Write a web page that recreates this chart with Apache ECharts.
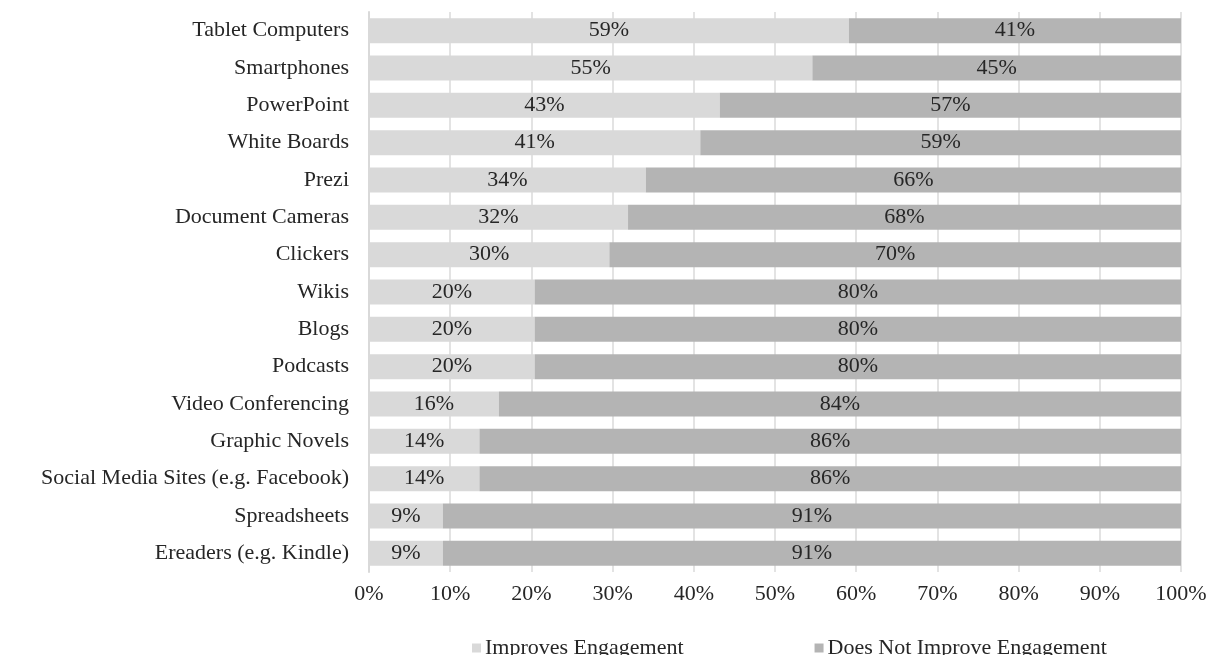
<!DOCTYPE html>
<html>
<head>
<meta charset="utf-8">
<script src="https://cdn.jsdelivr.net/npm/echarts@6/dist/echarts.min.js"></script>
<style>
html,body{margin:0;padding:0;background:#fff;}
#chart{width:1210px;height:655px;}
</style>
</head>
<body>
<div id="chart"></div>
<script>
var categories = ["Tablet Computers","Smartphones","PowerPoint","White Boards","Prezi","Document Cameras","Clickers","Wikis","Blogs","Podcasts","Video Conferencing","Graphic Novels","Social Media Sites (e.g. Facebook)","Spreadsheets","Ereaders (e.g. Kindle)"];
var improves = [59.1, 54.6, 43.2, 40.8, 34.1, 31.9, 29.6, 20.4, 20.4, 20.4, 16.0, 13.6, 13.6, 9.1, 9.1];
var doesNot = [40.9, 45.4, 56.8, 59.2, 65.9, 68.1, 70.4, 79.6, 79.6, 79.6, 84.0, 86.4, 86.4, 90.9, 90.9];
var seriesNames = ["Improves Engagement", "Does Not Improve Engagement"];
var xTicks = [0, 10, 20, 30, 40, 50, 60, 70, 80, 90, 100];

var FONT = "'Liberation Serif', 'DejaVu Serif', serif";
var TXT = '#262626';
var FS = 22;

var chart = echarts.init(document.getElementById('chart'), null, {renderer: 'canvas'});
var labelCfg = {
  show: true, position: 'inside', color: TXT, fontFamily: FONT, fontSize: FS,
  formatter: function (p) { return Math.round(p.value) + '%'; }
};
chart.setOption({
  animation: false,
  backgroundColor: '#fff',
  grid: {left: 369, right: 29, top: 12, bottom: 83, containLabel: false},
  legend: {
    data: seriesNames,
    left: 467, top: 632,
    itemWidth: 9, itemHeight: 9, itemGap: 131, icon: 'rect',
    textStyle: {color: TXT, fontFamily: FONT, fontSize: FS, padding: [0, 0, 0, -1]}
  },
  xAxis: {
    type: 'value', min: xTicks[0], max: xTicks[xTicks.length - 1], interval: 10,
    axisLine: {show: false}, axisTick: {show: false},
    axisLabel: {color: TXT, fontFamily: FONT, fontSize: FS, margin: 11,
      formatter: function (v) { return v + '%'; }},
    splitLine: {show: true, lineStyle: {color: '#e3e3e3', width: 2}}
  },
  yAxis: {
    type: 'category', data: categories, inverse: true,
    axisLine: {show: true, lineStyle: {color: '#d9d9d9', width: 2}},
    axisTick: {show: false},
    axisLabel: {color: TXT, fontFamily: FONT, fontSize: FS, margin: 20}
  },
  series: [
    {name: seriesNames[0], type: 'bar', stack: 'total', data: improves,
     barCategoryGap: '33%', itemStyle: {color: '#d9d9d9'}, label: labelCfg},
    {name: seriesNames[1], type: 'bar', stack: 'total', data: doesNot,
     barCategoryGap: '33%', itemStyle: {color: '#b4b4b4'}, label: labelCfg}
  ]
});
</script>
</body>
</html>
